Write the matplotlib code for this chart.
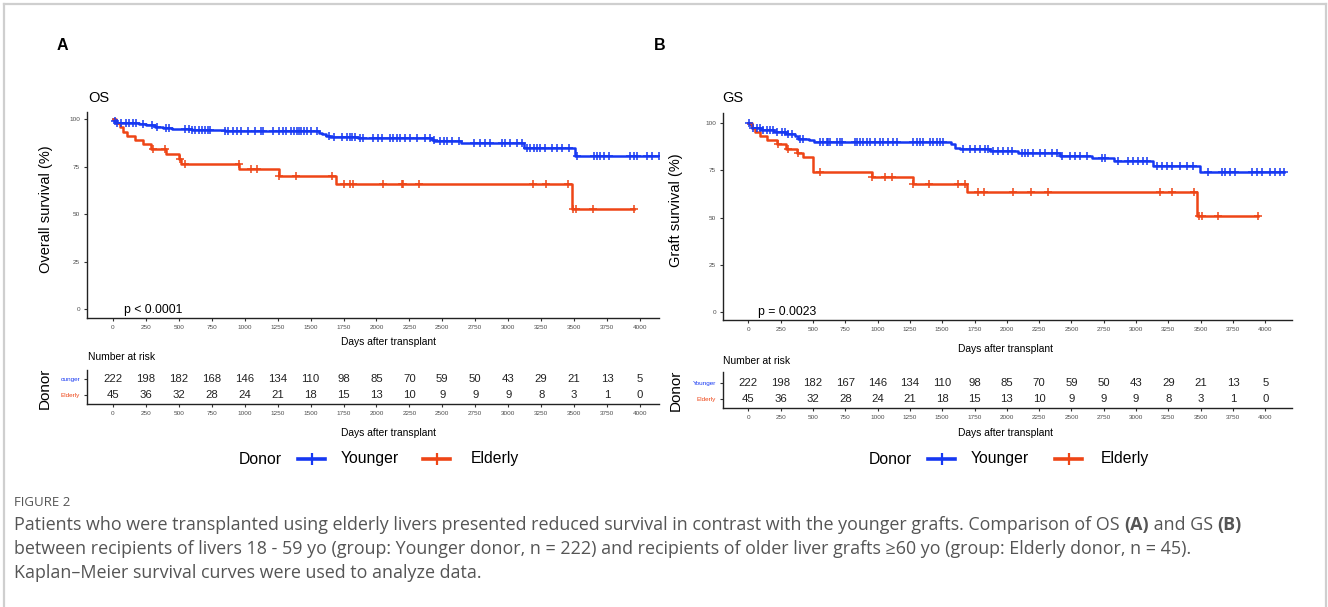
import numpy as np
import matplotlib
matplotlib.use("Agg")
import matplotlib.pyplot as plt
from matplotlib.lines import Line2D

# ---------------- data ----------------
xticks_days = [0, 250, 500, 750, 1000, 1250, 1500, 1750, 2000, 2250, 2500,
               2750, 3000, 3250, 3500, 3750, 4000]
yticks_surv = [0, 25, 50, 75, 100]
groups = ["Younger", "Elderly"]

# OS (panel A)
os_young_t = [0, 10, 25, 200, 250, 320, 380, 450, 600, 850, 1560, 1590, 1620,
              1650, 1860, 2420, 2440, 2640, 3120, 3510]
os_young_s = [100, 99.1, 97.9, 97.4, 96.8, 96.0, 95.2, 94.6, 94.1, 93.6, 92.8,
              92.0, 91.3, 90.8, 90.0, 89.2, 88.6, 87.3, 84.7, 80.6]
os_young_cens = [12, 30, 62, 100, 125, 150, 175, 225, 300, 338, 400, 425, 550,
                 575, 600, 625, 650, 675, 700, 725, 738, 850, 875, 912, 938, 975,
                 1025, 1075, 1125, 1138, 1212, 1262, 1288, 1312, 1350, 1375, 1400,
                 1412, 1425, 1450, 1475, 1500, 1550, 1638, 1675, 1738, 1775, 1800,
                 1813, 1838, 1875, 1901, 1977, 2015, 2041, 2104, 2129, 2154, 2180,
                 2218, 2256, 2306, 2370, 2408, 2433, 2484, 2509, 2535, 2572, 2623,
                 2737, 2787, 2825, 2863, 2952, 2977, 3015, 3066, 3104, 3142, 3167,
                 3192, 3218, 3243, 3281, 3332, 3370, 3408, 3458, 3522, 3648, 3673,
                 3699, 3724, 3762, 3927, 3952, 3977, 4053, 4091, 4142]
os_eld_t = [0, 20, 50, 75, 110, 165, 225, 290, 400, 500, 515, 960, 1260, 1690, 3480]
os_eld_s = [100, 97.8, 95.6, 93.3, 91.1, 88.9, 86.7, 84.2, 81.8, 79.0, 76.4,
            73.6, 69.8, 65.8, 52.6]
os_eld_cens = [305, 395, 510, 550, 955, 1045, 1095, 1262, 1388, 1662, 1750, 1800,
               1823, 2053, 2192, 2200, 2319, 3187, 3286, 3453, 3489, 3517, 3641, 3952]

# GS (panel B)
gs_young_t = [0, 10, 25, 100, 200, 290, 360, 385, 470, 510, 1570, 1600, 1640,
              1870, 2090, 2410, 2660, 2830, 3130, 3495]
gs_young_s = [100, 98.8, 97.5, 96.2, 95.2, 94.4, 93.0, 91.8, 91.0, 90.2, 88.8,
              87.0, 86.0, 85.2, 84.2, 82.8, 81.4, 80.0, 77.2, 74.0]
gs_young_cens = [8, 39, 64, 90, 116, 142, 168, 193, 219, 258, 284, 309, 335, 400,
                 426, 554, 580, 606, 619, 632, 683, 709, 722, 825, 838, 864, 890,
                 916, 941, 980, 1018, 1044, 1083, 1121, 1147, 1276, 1302, 1328,
                 1354, 1405, 1431, 1457, 1483, 1509, 1663, 1715, 1754, 1792, 1831,
                 1857, 1896, 1934, 1973, 2012, 2038, 2115, 2141, 2167, 2205, 2257,
                 2296, 2347, 2386, 2425, 2489, 2528, 2567, 2618, 2734, 2760, 2863,
                 2940, 2979, 3018, 3056, 3082, 3160, 3198, 3237, 3276, 3340, 3392,
                 3443, 3559, 3662, 3688, 3727, 3766, 3894, 3933, 3972, 4036, 4075,
                 4114, 4145]
gs_eld_t = [0, 26, 52, 90, 147, 219, 291, 374, 420, 503, 954, 1276, 1689, 3474]
gs_eld_s = [100, 97.6, 95.4, 93.2, 91.0, 88.8, 86.5, 84.2, 81.8, 74.2, 71.2,
            67.7, 63.4, 50.8]
gs_eld_cens = [232, 309, 387, 554, 954, 1057, 1114, 1276, 1400, 1625, 1676, 1780,
               1823, 2050, 2187, 2316, 3185, 3280, 3450, 3490, 3513, 3636, 3946]

# numbers at risk
os_risk_young = [222, 198, 182, 168, 146, 134, 110, 98, 85, 70, 59, 50, 43, 29, 21, 13, 5]
os_risk_eld = [45, 36, 32, 28, 24, 21, 18, 15, 13, 10, 9, 9, 9, 8, 3, 1, 0]
gs_risk_young = [222, 198, 182, 167, 146, 134, 110, 98, 85, 70, 59, 50, 43, 29, 21, 13, 5]
gs_risk_eld = [45, 36, 32, 28, 24, 21, 18, 15, 13, 10, 9, 9, 9, 8, 3, 1, 0]

caption_title = "FIGURE 2"
caption_runs = [
    [("Patients who were transplanted using elderly livers presented reduced survival in contrast with the younger grafts. Comparison of OS ", "normal"),
     ("(A)", "bold"), (" and GS ", "normal"), ("(B)", "bold")],
    [("between recipients of livers 18 - 59 yo (group: Younger donor, n = 222) and recipients of older liver grafts \u226560 yo (group: Elderly donor, n = 45).", "normal")],
    [("Kaplan\u2013Meier survival curves were used to analyze data.", "normal")],
]

# ---------------- style ----------------
BLUE = "#1638F2"
RED = "#EE4516"
TICKC = "#4D4D4D"
FONT = ["Liberation Sans", "DejaVu Sans"]
plt.rcParams["font.family"] = FONT

W, H = 1328, 607
fig = plt.figure(figsize=(W / 100, H / 100), dpi=100)


def px_axes(left, top, right, bottom):
    return fig.add_axes([left / W, 1 - bottom / H, (right - left) / W, (bottom - top) / H])


def ftext(x, y, s, **kw):
    return fig.text(x / W, 1 - y / H, s, **kw)


def surv_at(t, s, c):
    idx = np.searchsorted(np.asarray(t), np.asarray(c), side="right") - 1
    return np.asarray(s)[idx]


def km(ax, t, s, cens, color):
    end = max(max(cens), t[-1])
    tt = list(t) + [end]
    ss = list(s) + [s[-1]]
    ax.step(tt, ss, where="post", color=color, lw=1.8, zorder=3)
    ax.plot(cens, surv_at(t, s, cens), ls="none", marker="+", ms=5.5, mew=1.1,
            color=color, zorder=4)


def style_axes(ax, xl, yl):
    for sp in ["top", "right"]:
        ax.spines[sp].set_visible(False)
    for sp in ["left", "bottom"]:
        ax.spines[sp].set_linewidth(1.0)
        ax.spines[sp].set_color("#222222")
    ax.set_xlim(*xl)
    ax.set_ylim(*yl)
    ax.set_xticks(xticks_days)
    ax.set_xticklabels([str(v) for v in xticks_days])
    ax.tick_params(axis="both", length=2.5, width=0.8, color="#333333",
                   labelsize=4.6, labelcolor=TICKC, pad=2.5)


def panel(cfg):
    # main KM axes
    ax = px_axes(*cfg["main_box"])
    style_axes(ax, cfg["xlim"], cfg["ylim"])
    ax.set_yticks(yticks_surv)
    ax.set_yticklabels([str(v) for v in yticks_surv])
    km(ax, cfg["young_t"], cfg["young_s"], cfg["young_c"], BLUE)
    km(ax, cfg["eld_t"], cfg["eld_s"], cfg["eld_c"], RED)
    ax.set_xlabel("")
    ax.set_ylabel("")
    ftext(*cfg["xlab1"], "Days after transplant", fontsize=7.4, ha="center", va="center")
    ftext(*cfg["ylab"], cfg["ylabel"], fontsize=10.5, ha="center", va="center",
          rotation=90)
    ftext(*cfg["title_pos"], cfg["title"], fontsize=10.5, ha="left", va="center")
    ftext(*cfg["p_pos"], cfg["ptext"], fontsize=8.8, ha="left", va="center")
    ftext(*cfg["letter_pos"], cfg["letter"], fontsize=11.5, fontweight="bold",
          ha="left", va="center")

    # risk table
    rt = px_axes(*cfg["risk_box"])
    style_axes(rt, cfg["xlim"], cfg["risk_ylim"])
    rt.set_yticks([1, 0])
    rt.set_yticklabels(cfg["row_labels"])
    for lab, c in zip(rt.get_yticklabels(), [BLUE, RED]):
        lab.set_color(c)
    for x, n in zip(xticks_days, cfg["risk_y"]):
        rt.text(x, 1, str(n), ha="center", va="center", fontsize=8.2, color="#222222")
    for x, n in zip(xticks_days, cfg["risk_e"]):
        rt.text(x, 0, str(n), ha="center", va="center", fontsize=8.2, color="#222222")
    ftext(*cfg["nar_pos"], "Number at risk", fontsize=7.4, ha="left", va="center")
    ftext(*cfg["xlab2"], "Days after transplant", fontsize=7.4, ha="center", va="center")
    ftext(*cfg["donor_pos"], "Donor", fontsize=11, ha="center", va="center", rotation=90)

    # legend
    lg = cfg["legend"]
    ftext(lg["donor"], lg["y"], "Donor", fontsize=11.3, ha="left", va="center")
    for (x0, x1), c, tx, lab in [(lg["b"], BLUE, lg["ty"], "Younger"),
                                 (lg["r"], RED, lg["te"], "Elderly")]:
        yy = 1 - lg["y"] / H
        fig.add_artist(Line2D([x0 / W, x1 / W], [yy, yy], color=c, lw=2.6))
        fig.add_artist(Line2D([(x0 + x1) / 2 / W], [yy], color=c, marker="|",
                              ms=8, mew=1.6, ls="none"))
        ftext(tx, lg["y"], lab, fontsize=11.3, ha="left", va="center")


panel(dict(
    main_box=(87, 112, 659, 318),
    xlim=(-197, 4144), ylim=(-4.7, 103.7),
    young_t=os_young_t, young_s=os_young_s, young_c=os_young_cens,
    eld_t=os_eld_t, eld_s=os_eld_s, eld_c=os_eld_cens,
    xlab1=(388, 342), ylab=(46, 209), ylabel="Overall survival (%)",
    title="OS", title_pos=(88, 98), ptext="p < 0.0001", p_pos=(124, 310),
    letter="A", letter_pos=(57, 46),
    risk_box=(87, 370, 659, 404), risk_ylim=(-0.56, 1.56),
    row_labels=["ounger", "Elderly"],
    risk_y=os_risk_young, risk_e=os_risk_eld,
    nar_pos=(88, 357), xlab2=(388, 433), donor_pos=(45, 388),
    legend=dict(y=459, donor=239, b=(298, 325), ty=341, r=(423, 450), te=471),
))

panel(dict(
    main_box=(723, 113, 1292, 320),
    xlim=(-196, 4206), ylim=(-4.2, 105.3),
    young_t=gs_young_t, young_s=gs_young_s, young_c=gs_young_cens,
    eld_t=gs_eld_t, eld_s=gs_eld_s, eld_c=gs_eld_cens,
    xlab1=(1005, 349), ylab=(676, 210), ylabel="Graft survival (%)",
    title="GS", title_pos=(722, 98), ptext="p = 0.0023", p_pos=(758, 312),
    letter="B", letter_pos=(654, 46),
    risk_box=(723, 372, 1292, 408), risk_ylim=(-0.56, 1.69),
    row_labels=["Younger", "Elderly"],
    risk_y=gs_risk_young, risk_e=gs_risk_eld,
    nar_pos=(723, 361), xlab2=(1005, 433), donor_pos=(676, 390),
    legend=dict(y=459, donor=869, b=(928, 955), ty=971, r=(1055, 1082), te=1101),
))

# border
bc = "#CFCFCF"
for xs, ys in [([4, 1326], [4, 4]), ([4, 4], [4, 607]), ([1326, 1326], [4, 607])]:
    fig.add_artist(Line2D([x / W for x in xs], [1 - y / H for y in ys], color=bc, lw=1.6))

# caption
CAPF = ["Open Sans", "DejaVu Sans"]
ftext(14, 503, caption_title, fontsize=9.5, color="#555555", family=CAPF,
      ha="left", va="center")
renderer = fig.canvas.get_renderer()
for i, runs in enumerate(caption_runs):
    x = 14
    y = [525, 549, 573][i]
    for txt, wt in runs:
        t = ftext(x, y, txt, fontsize=12.9, color="#555555", family=CAPF,
                  fontweight=wt, ha="left", va="center")
        x += t.get_window_extent(renderer).width

fig.savefig("out.png", dpi=100)
